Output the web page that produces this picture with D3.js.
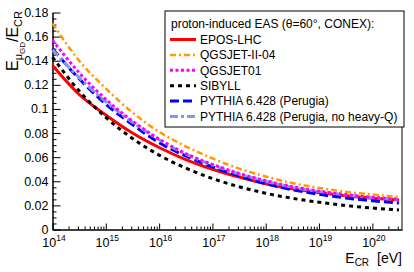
<!DOCTYPE html>
<html>
<head>
<meta charset="utf-8">
<script src="https://cdn.jsdelivr.net/npm/d3@7"></script>
<style>
  body { margin: 0; background: #fff; }
  svg { font-family: "Liberation Sans", Arial, sans-serif; }
</style>
</head>
<body>
<div id="chart"></div>
<script>
// energies in log10(E/eV)
var logE = [14, 14.5, 15, 15.5, 16, 16.5, 17, 17.5, 18, 18.5, 19, 19.5, 20, 20.5];

var eposLHC    = [0.136, 0.112, 0.095, 0.080, 0.068, 0.058, 0.050, 0.0435, 0.038, 0.0337, 0.0306, 0.028, 0.026, 0.0244];
var qgsjetII04 = [0.171, 0.140, 0.117, 0.097, 0.081, 0.069, 0.059, 0.0505, 0.044, 0.0385, 0.0345, 0.0313, 0.029, 0.027];
var qgsjet01   = [0.157, 0.130, 0.108, 0.090, 0.075, 0.063, 0.054, 0.0465, 0.0405, 0.0355, 0.0318, 0.029, 0.0268, 0.0252];
var sibyll     = [0.143, 0.115, 0.093, 0.0755, 0.0617, 0.0509, 0.0423, 0.0355, 0.0301, 0.0259, 0.0226, 0.0199, 0.0178, 0.0162];
var pythia     = [0.150, 0.125, 0.104, 0.087, 0.072, 0.061, 0.052, 0.0445, 0.038, 0.033, 0.0292, 0.0262, 0.0238, 0.0219];
var pythiaNoHQ = [0.149, 0.126, 0.106, 0.089, 0.0745, 0.0625, 0.0535, 0.046, 0.040, 0.035, 0.0315, 0.0287, 0.0265, 0.025];

var seriesNames = ["EPOS-LHC", "QGSJET-II-04", "QGSJET01", "SIBYLL", "PYTHIA 6.428 (Perugia)", "PYTHIA 6.428 (Perugia, no heavy-Q)"];
var legendHeader = "proton-induced EAS (\u03b8=60\u00b0, CONEX):";
var yTickLabels = [0, 0.02, 0.04, 0.06, 0.08, 0.1, 0.12, 0.14, 0.16, 0.18];

var styles = [
  {color: "#ff0000", dash: null,       width: 3},
  {color: "#ff9900", dash: "6,3,2,3",  width: 2.5},
  {color: "#ff00ff", dash: "3,2.5",    width: 3},
  {color: "#000000", dash: "4,4",      width: 3},
  {color: "#0000ff", dash: "9,4",      width: 3},
  {color: "#7f99ee", dash: "8,3,3,3",  width: 3}
];
var values = [eposLHC, qgsjetII04, qgsjet01, sibyll, pythia, pythiaNoHQ];

var W = 414, H = 272;
var fr = {left: 52.5, right: 402, top: 12.5, bottom: 229.5};

var svg = d3.select("#chart").append("svg").attr("width", W).attr("height", H);

var x = d3.scaleLog().domain([1e14, 3.6e20]).range([fr.left, fr.right]);
var y = d3.scaleLinear().domain([0, 0.18]).range([fr.bottom, fr.top]);

// x axis, minor + major ticks pointing inward
var xTicks = x.ticks();
var isMajor = function(t){ return Math.abs(Math.log10(t) - Math.round(Math.log10(t))) < 1e-9; };

svg.append("g").attr("transform", "translate(0," + fr.bottom + ")")
  .call(d3.axisBottom(x).tickValues(xTicks.filter(function(t){ return !isMajor(t); }))
    .tickSizeInner(-3).tickSizeOuter(0).tickFormat(""));
var xMajor = svg.append("g").attr("transform", "translate(0," + fr.bottom + ")")
  .call(d3.axisBottom(x).tickValues(xTicks.filter(isMajor))
    .tickSizeInner(-6).tickSizeOuter(0).tickFormat(""));

xMajor.selectAll(".tick").each(function(t){
  var txt = d3.select(this).append("text")
    .attr("fill", "#000").attr("text-anchor", "middle")
    .attr("x", 1).attr("y", 17.5).attr("font-size", 12.5);
  txt.append("tspan").text("10");
  txt.append("tspan").attr("dy", -6).attr("font-size", 8.5).text(Math.round(Math.log10(t)));
});

// y axis
var yMinor = d3.range(0, 0.1801, 0.005).filter(function(v){ return Math.abs(v / 0.02 - Math.round(v / 0.02)) > 1e-6; });
svg.append("g").attr("transform", "translate(" + fr.left + ",0)")
  .call(d3.axisLeft(y).tickValues(yMinor).tickSizeInner(-4).tickSizeOuter(0).tickFormat(""));
svg.append("g").attr("transform", "translate(" + fr.left + ",0)")
  .call(d3.axisLeft(y).tickValues(yTickLabels).tickSizeInner(-8).tickSizeOuter(0)
    .tickPadding(4).tickFormat(function(d){ return d === 0 ? "0" : String(+d.toFixed(2)); }))
  .selectAll("text").attr("font-size", 12.5).attr("fill", "#000")
  .attr("font-family", "Liberation Sans, Arial, sans-serif");

svg.selectAll(".domain").attr("stroke", "#000");
svg.selectAll(".tick line").attr("stroke", "#000");

// right frame line
svg.append("line").attr("x1", fr.right).attr("x2", fr.right)
  .attr("y1", fr.top).attr("y2", fr.bottom).attr("stroke", "#000");

// curves
var line = d3.line()
  .x(function(d){ return x(Math.pow(10, d[0])); })
  .y(function(d){ return y(d[1]); })
  .curve(d3.curveMonotoneX);

var drawOrder = [0, 4, 5, 2, 3, 1];
drawOrder.forEach(function(i){
  svg.append("path")
    .datum(logE.map(function(l, j){ return [l, values[i][j]]; }))
    .attr("d", line)
    .attr("fill", "none")
    .attr("stroke", styles[i].color)
    .attr("stroke-width", styles[i].width)
    .attr("stroke-dasharray", styles[i].dash);
});

// legend
var lg = {x: 165, y: 11, w: 239, h: 116, row: 15.4};
svg.append("rect").attr("x", lg.x).attr("y", lg.y).attr("width", lg.w).attr("height", lg.h)
  .attr("fill", "#fff").attr("stroke", "#000").attr("stroke-width", 1);
svg.append("text").attr("x", lg.x + 6).attr("y", lg.y + 13).attr("dy", "0.35em")
  .attr("font-size", 12).text(legendHeader);

var rows = svg.selectAll("g.lrow").data(seriesNames).enter().append("g")
  .attr("class", "lrow")
  .attr("transform", function(d, i){ return "translate(" + lg.x + "," + (lg.y + 28.5 + i * lg.row) + ")"; });
rows.append("line").attr("x1", 5).attr("x2", 31).attr("y1", 0).attr("y2", 0)
  .attr("stroke", function(d, i){ return styles[i].color; })
  .attr("stroke-width", function(d, i){ return styles[i].width; })
  .attr("stroke-dasharray", function(d, i){ return styles[i].dash; });
rows.append("text").attr("x", 35).attr("dy", "0.35em").attr("font-size", 12).text(function(d){ return d; });

// axis titles
var yt = svg.append("text").attr("transform", "translate(18,11) rotate(-90)")
  .attr("text-anchor", "end").attr("font-size", 16);
yt.append("tspan").text("E");
yt.append("tspan").attr("font-size", 11).attr("dy", 4).text("\u03bc");
yt.append("tspan").attr("font-size", 8).attr("dy", 3).text("GD");
yt.append("tspan").attr("dy", -7).text("/E");
yt.append("tspan").attr("font-size", 11).attr("dy", 4).text("CR");

var xt = svg.append("text").attr("x", fr.right).attr("y", 263)
  .attr("text-anchor", "end").attr("font-size", 14);
xt.append("tspan").text("E");
xt.append("tspan").attr("font-size", 10).attr("dy", 3).text("CR");
xt.append("tspan").attr("dy", -3).attr("dx", 8).text("[eV]");
</script>
</body>
</html>
